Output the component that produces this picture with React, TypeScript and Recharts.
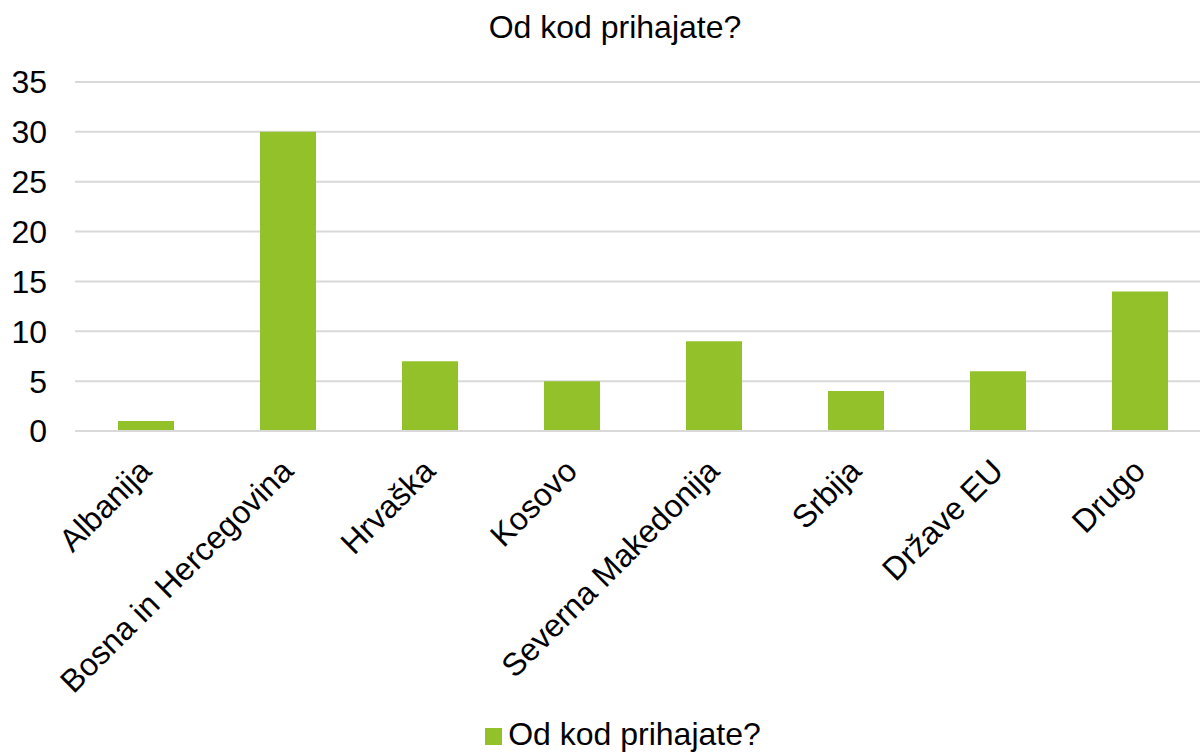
import { Bar, BarChart, CartesianGrid, Legend, XAxis, YAxis } from "recharts";

const categories = [
  "Albanija",
  "Bosna in Hercegovina",
  "Hrvaška",
  "Kosovo",
  "Severna Makedonija",
  "Srbija",
  "Države EU",
  "Drugo",
];
const counts = [1, 30, 7, 5, 9, 4, 6, 14];
const yTicks = [0, 5, 10, 15, 20, 25, 30, 35];
const seriesName = "Od kod prihajate?";

const FONT = "'Liberation Sans', Arial, sans-serif";
const GREEN = "#92C12A";

const chartData = categories.map((name, i) => ({ name, value: counts[i] }));

function RotatedTick(props: any) {
  const { x, y, payload } = props;
  const ax = x + 7;
  const ay = y + 34;
  return (
    <text
      x={ax}
      y={ay}
      textAnchor="end"
      fontSize={32}
      fontFamily={FONT}
      fill="#000"
      transform={`rotate(-45, ${ax}, ${ay})`}
    >
      {payload.value}
    </text>
  );
}

export default function App() {
  return (
    <div
      style={{
        position: "absolute",
        left: 0,
        top: 0,
        width: 1200,
        height: 756,
        overflow: "hidden",
        background: "#fff",
        fontFamily: FONT,
      }}
    >
      <div
        style={{
          position: "absolute",
          top: 9,
          left: 0,
          width: 1230,
          textAlign: "center",
          fontSize: 32,
          color: "#000",
          zIndex: 1,
        }}
      >
        Od kod prihajate?
      </div>
      <BarChart
        width={1211}
        height={756}
        data={chartData}
        margin={{ top: 82, right: 0, left: 0, bottom: 0 }}
        barSize={56}
      >
        <CartesianGrid vertical={false} stroke="#d9d9d9" strokeWidth={2} />
        <XAxis
          dataKey="name"
          interval={0}
          height={285}
          tick={<RotatedTick />}
          tickLine={false}
          axisLine={{ stroke: "#d9d9d9", strokeWidth: 2 }}
        />
        <YAxis
          width={75}
          domain={[0, 35]}
          ticks={yTicks}
          tickLine={false}
          axisLine={false}
          tickMargin={22}
          tick={{ fontSize: 32, fill: "#000", fontFamily: FONT }}
        />
        <Legend
          verticalAlign="bottom"
          height={40}
          iconType="square"
          iconSize={17}
          wrapperStyle={{ left: 0, width: 1256, fontSize: 32, fontFamily: FONT, color: "#000" }}
          formatter={(v) => <span style={{ color: "#000", marginLeft: 2 }}>{v}</span>}
        />
        <Bar dataKey="value" name={seriesName} fill={GREEN} isAnimationActive={false} />
      </BarChart>
    </div>
  );
}
